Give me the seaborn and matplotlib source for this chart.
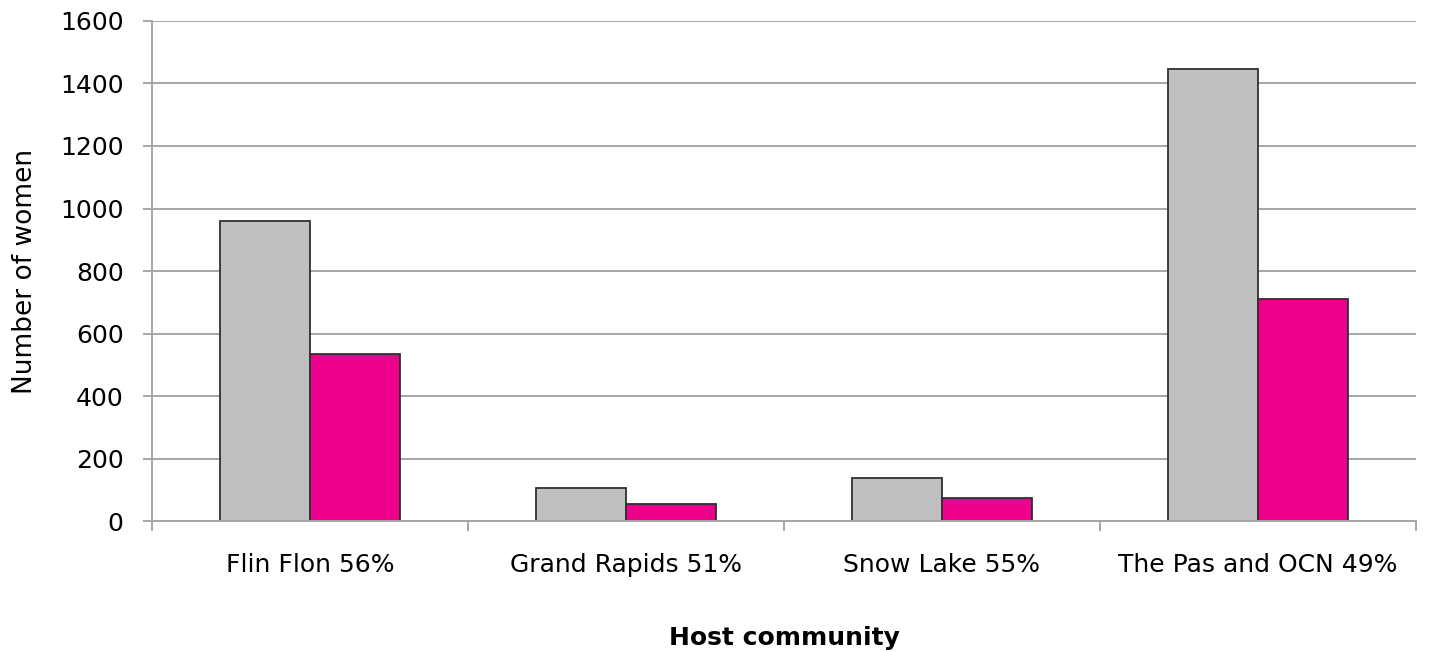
import pandas as pd
import seaborn as sns
import matplotlib.pyplot as plt
from matplotlib.ticker import MultipleLocator, FixedLocator

# Data
communities = ['Flin Flon 56%', 'Grand Rapids 51%', 'Snow Lake 55%', 'The Pas and OCN 49%']
total_women = [960, 106, 138, 1446]
subgroup_women = [534, 54, 74, 710]
series_names = ['Total', 'Subgroup']
series_colors = ['#C0C0C0', '#EC008C']

def build_frame():
    rows = []
    for c, t, s in zip(communities, total_women, subgroup_women):
        rows.append({'community': c, 'series': series_names[0], 'value': t})
        rows.append({'community': c, 'series': series_names[1], 'value': s})
    return pd.DataFrame(rows)

def main():
    sns.set_style('white')
    plt.rcParams['font.family'] = ['DejaVu Sans']
    plt.rcParams['text.color'] = 'black'
    plt.rcParams['axes.labelcolor'] = 'black'
    plt.rcParams['xtick.labelcolor'] = 'black'
    plt.rcParams['ytick.labelcolor'] = 'black'
    data = build_frame()

    fig = plt.figure(figsize=(14.3, 6.52), dpi=100)
    ax = fig.add_axes([0.1063, 0.2009, 0.8839, 0.7669])

    sns.barplot(data=data, x='community', y='value', hue='series',
                palette=series_colors, saturation=1, width=0.57, gap=0,
                edgecolor='#303030', linewidth=1.3, legend=False, ax=ax)

    ax.set_ylim(0, 1600)
    ax.set_xlim(-0.5, len(communities) - 0.5)
    ax.yaxis.set_major_locator(MultipleLocator(200))
    ax.grid(axis='y', color='#A6A6A6', linewidth=1.4)
    ax.set_axisbelow(True)

    for side in ['top', 'right']:
        ax.spines[side].set_visible(False)
    for side in ['left', 'bottom']:
        ax.spines[side].set_color('#A6A6A6')
        ax.spines[side].set_linewidth(1.4)

    ax.tick_params(axis='y', which='major', length=6.5, width=1.4, color='#A6A6A6',
                   direction='out', left=True, pad=14, labelsize=18)
    ax.tick_params(axis='x', which='major', length=0, pad=23, labelsize=18)
    ax.xaxis.set_minor_locator(FixedLocator([i - 0.5 for i in range(len(communities) + 1)]))
    ax.tick_params(axis='x', which='minor', length=7, width=1.4, color='#A6A6A6',
                   direction='out', bottom=True)

    ax.set_xlabel('Host community', fontsize=18, fontweight='bold', labelpad=35)
    ax.set_ylabel('Number of women', fontsize=19, labelpad=16)

    fig.savefig('out.png', dpi=100)

if __name__ == "__main__":
    main()
